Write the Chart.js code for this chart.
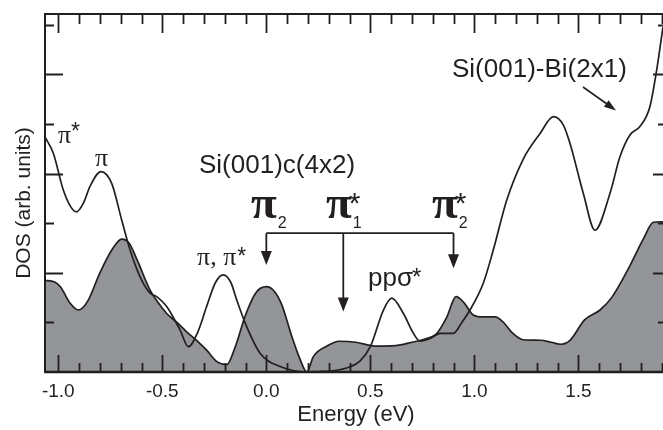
<!DOCTYPE html>
<html><head><meta charset="utf-8">
<script src="https://cdn.jsdelivr.net/npm/chart.js@4"></script>
<style>html,body{margin:0;padding:0;background:#fff;overflow:hidden}canvas{display:block}</style>
</head><body><canvas id="c" width="663" height="430"></canvas>
<script>
// ---- data ----
const grayEnergy = [-1.064,-1.02,-0.99,-0.944,-0.904,-0.86,-0.80,-0.743,-0.695,-0.66,-0.62,-0.559,-0.52,-0.479,-0.43,-0.383,-0.33,-0.287,-0.238,-0.19,-0.15,-0.10,-0.05,0.0,0.04,0.075,0.12,0.16,0.195,0.226,0.29,0.35,0.43,0.53,0.62,0.70,0.76,0.82,0.867,0.912,0.95,0.995,1.043,1.10,1.14,1.18,1.236,1.316,1.37,1.412,1.46,1.53,1.604,1.66,1.74,1.812,1.861,1.907];
const grayDOS    = [1.85,1.82,1.72,1.39,1.25,1.42,2.0,2.46,2.68,2.60,2.25,1.65,1.40,1.18,1.00,0.81,0.62,0.44,0.21,0.15,0.50,1.15,1.60,1.72,1.62,1.35,0.75,0.28,0.0,0.31,0.52,0.62,0.60,0.52,0.53,0.60,0.66,0.78,1.10,1.52,1.40,1.15,1.11,1.11,1.00,0.80,0.65,0.64,0.60,0.56,0.64,1.05,1.25,1.50,2.08,2.68,3.02,3.03];
const biEnergy = [-1.064,-1.024,-0.976,-0.94,-0.912,-0.88,-0.848,-0.795,-0.743,-0.695,-0.655,-0.607,-0.559,-0.527,-0.479,-0.415,-0.375,-0.33,-0.287,-0.245,-0.207,-0.17,-0.142,-0.094,-0.03,0.066,0.194,0.25,0.33,0.40,0.45,0.50,0.563,0.603,0.659,0.707,0.739,0.79,0.835,0.899,0.94,0.979,1.043,1.091,1.156,1.236,1.316,1.38,1.428,1.46,1.524,1.58,1.652,1.70,1.748,1.796,1.844,1.877,1.907];
const biDOS    = [4.74,4.41,3.67,3.33,3.23,3.40,3.74,4.04,3.80,3.06,2.46,1.92,1.59,1.52,1.32,0.85,0.51,0.80,1.32,1.80,1.96,1.80,1.45,0.91,0.38,0.11,0.0,0.01,0.03,0.10,0.22,0.51,1.25,1.49,1.18,0.78,0.62,0.68,0.78,0.78,1.00,1.25,1.79,2.46,3.47,4.30,4.81,5.15,4.98,4.61,3.60,2.86,3.60,4.34,4.78,4.95,5.35,6.10,6.96];
const xTickValues = [-1.0,-0.5,0.0,0.5,1.0,1.5];
const xTickLabels = ["-1.0","-0.5","0.0","0.5","1.0","1.5"];
const xMinorStep = 0.1;
const yTickValues = [1,2,3,4,5,6,7];
const stateEnergies = [0.0, 0.37, 0.9];      // π2, π1*, π2* arrows
const stateArrowTips = [2.16, 1.22, 2.09];   // DOS value of arrow tips
const bracketLevel = 2.80;

const X_MIN = -1.064, X_MAX = 1.907, Y_MIN = 0, Y_MAX = 7.22;
const INK = '#231f20';
const GRAY = '#939598';
const SANS = '"Liberation Sans", Arial, sans-serif';
const SERIF = '"Liberation Serif", "Times New Roman", serif';

function toXY(xs, ys){ return xs.map((v,i)=>({x:v, y:ys[i]})); }

function arrowHead(ctx, tx, ty, dx, dy, len, wid){
  const n = Math.hypot(dx,dy); dx/=n; dy/=n;
  const bx = tx - dx*len, by = ty - dy*len;
  ctx.beginPath();
  ctx.moveTo(tx,ty);
  ctx.lineTo(bx - dy*wid/2, by + dx*wid/2);
  ctx.lineTo(bx + dy*wid/2, by - dx*wid/2);
  ctx.closePath(); ctx.fill();
}

const decor = {
  id: 'decor',
  afterDatasetsDraw(chart){
    const {ctx, chartArea:a, scales:{x, y}} = chart;
    ctx.save();
    ctx.strokeStyle = INK; ctx.fillStyle = INK; ctx.lineCap = 'butt';
    // frame
    ctx.lineWidth = 2;
    ctx.beginPath();
    ctx.moveTo(a.left-1, a.top); ctx.lineTo(a.right, a.top);
    ctx.moveTo(a.left, a.top); ctx.lineTo(a.left, a.bottom);
    ctx.stroke();
    ctx.lineWidth = 2.6;
    ctx.beginPath(); ctx.moveTo(a.left-1, a.bottom); ctx.lineTo(a.right, a.bottom); ctx.stroke();
    // x ticks (bottom & top, inward)
    ctx.lineWidth = 1.8;
    ctx.beginPath();
    const n0 = Math.ceil(X_MIN/xMinorStep - 1e-6), n1 = Math.floor(X_MAX/xMinorStep + 1e-6);
    for (let k = n0; k <= n1; k++){
      const v = k*xMinorStep;
      const px = Math.round(x.getPixelForValue(v)) + 0.5;
      const major = k % 5 === 0;
      ctx.moveTo(px, a.bottom); ctx.lineTo(px, a.bottom - (major ? 17 : 9));
      ctx.moveTo(px, a.top); ctx.lineTo(px, a.top + (major ? 19 : 10));
    }
    // y ticks (left & right, inward)
    yTickValues.forEach(v => {
      const py = Math.round(y.getPixelForValue(v)) + 0.5;
      const major = v % 2 === 0;
      ctx.moveTo(a.left, py); ctx.lineTo(a.left + (major ? 18 : 9), py);
      ctx.moveTo(a.right, py); ctx.lineTo(a.right - (major ? 10 : 5), py);
    });
    ctx.stroke();

    // axis titles
    ctx.textAlign = 'center'; ctx.textBaseline = 'alphabetic';
    ctx.font = '22px ' + SANS;
    ctx.fillText('Energy (eV)', 356, 421);
    ctx.save();
    ctx.translate(30, 203); ctx.rotate(-Math.PI/2);
    ctx.font = '21px ' + SANS;
    ctx.fillText('DOS (arb. units)', 0, 0);
    ctx.restore();

    // labels
    ctx.textAlign = 'left';
    ctx.font = '26px ' + SANS;
    ctx.fillText('Si(001)c(4x2)', 199, 173);
    ctx.fillText('Si(001)-Bi(2x1)', 452, 77);
    // ppσ*
    ctx.fillText('ppσ', 368, 286);
    ctx.font = '24px ' + SANS; ctx.fillText('*', 412, 285);
    // small π labels
    ctx.font = '26px ' + SERIF;
    ctx.fillText('π', 58, 143);
    ctx.fillText('π', 95, 166);
    ctx.fillText('π, π', 197, 265);
    const w = ctx.measureText('π, π').width;
    ctx.font = '23px ' + SANS;
    ctx.fillText('*', 71, 139);
    ctx.fillText('*', 197 + w + 1, 264);

    // big state labels
    const bigPi = [[251, '2', ''], [326, '1', '*'], [432, '2', '*']];
    bigPi.forEach(([lx, sub, sup]) => {
      ctx.font = 'bold 47px ' + SERIF;
      ctx.fillText('π', lx, 218);
      const pw = ctx.measureText('π').width;
      ctx.font = '16px ' + SANS;
      ctx.fillText(sub, lx + pw + 1, 228);
      if (sup){ ctx.font = '30px ' + SANS; ctx.fillText(sup, lx + pw - 3, 213); }
    });

    // bracket with arrows
    const by = y.getPixelForValue(bracketLevel);
    const xs = stateEnergies.map(e => x.getPixelForValue(e));
    ctx.lineWidth = 1.8;
    ctx.beginPath();
    ctx.moveTo(xs[0], by); ctx.lineTo(xs[2], by);
    xs.forEach((px, i) => {
      const ty = y.getPixelForValue(stateArrowTips[i]);
      ctx.moveTo(px, by); ctx.lineTo(px, ty - 10);
    });
    ctx.stroke();
    xs.forEach((px, i) => arrowHead(ctx, px, y.getPixelForValue(stateArrowTips[i]), 0, 1, 14, 11));

    // arrow for Bi label
    ctx.lineWidth = 1.6;
    ctx.beginPath(); ctx.moveTo(583, 87); ctx.lineTo(607, 104); ctx.stroke();
    arrowHead(ctx, 616, 110.5, 32, 23, 12, 8);
    ctx.restore();
  }
};

new Chart(document.getElementById('c'), {
  type: 'line',
  data: {
    datasets: [
      { label: 'Si(001)-Bi(2x1)', data: toXY(biEnergy, biDOS), borderColor: INK, borderWidth: 1.7,
        fill: false, pointRadius: 0, cubicInterpolationMode: 'monotone' },
      { label: 'Si(001)c(4x2)', data: toXY(grayEnergy, grayDOS), borderColor: INK, borderWidth: 1.7,
        backgroundColor: GRAY, fill: 'origin', pointRadius: 0, cubicInterpolationMode: 'monotone' }
    ]
  },
  options: {
    responsive: false, animation: false, devicePixelRatio: 1,
    layout: { padding: { top: 14, right: 0, left: 0, bottom: 0 } },
    plugins: { legend: { display: false }, tooltip: { enabled: false } },
    scales: {
      x: { type: 'linear', min: X_MIN, max: X_MAX, position: 'bottom',
        grid: { display: false, drawTicks: false }, border: { display: false },
        afterBuildTicks: s => { s.ticks = xTickValues.map(v => ({ value: v })); },
        afterFit: s => { s.height = 58; },
        ticks: { padding: 8, color: INK, font: { family: SANS, size: 19 },
          callback: (v) => { const i = xTickValues.findIndex(t => Math.abs(t - v) < 1e-9); return i >= 0 ? xTickLabels[i] : ''; } } },
      y: { type: 'linear', min: Y_MIN, max: Y_MAX,
        grid: { display: false, drawTicks: false }, border: { display: false },
        ticks: { display: false },
        afterFit: s => { s.width = 45; } }
    }
  },
  plugins: [decor]
});
</script>
</body></html>
